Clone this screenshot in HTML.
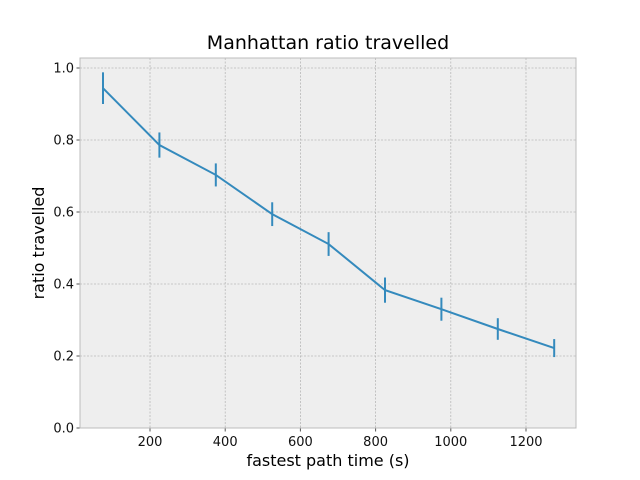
<!DOCTYPE html>
<html><head><meta charset="utf-8"><style>body{margin:0;background:#fff}svg{display:block;font-family:"DejaVu Sans","Liberation Sans",sans-serif}</style></head>
<body>
<svg id="chart" width="640" height="480"></svg>
<script>
const xValues=[75,225,375,525,675,825,975,1125,1275];
const yValues=[0.944,0.786,0.703,0.594,0.511,0.383,0.33,0.275,0.222];
const yErrors=[0.044,0.035,0.032,0.033,0.033,0.035,0.032,0.03,0.025];
const xTicks=[200,400,600,800,1000,1200];
const yTicks=[0.0,0.2,0.4,0.6,0.8,1.0];
const L=80,R=576,T=58,B=428;
const xmin=13.8,xmax=1333,ymin=0,ymax=1.0278;
const xs=v=>L+(v-xmin)/(xmax-xmin)*(R-L);
const ys=v=>B-(v-ymin)/(ymax-ymin)*(B-T);
const svg=document.getElementById('chart');const NS='http://www.w3.org/2000/svg';
function mk(t,a,p){const e=document.createElementNS(NS,t);for(const k in a)e.setAttribute(k,a[k]);(p||svg).appendChild(e);return e;}
const bg=mk('rect',{x:L,y:T,width:R-L,height:B-T,fill:'#eeeeee'});


xTicks.forEach(t=>{const x=xs(t);
const g=mk('line',{x1:x,x2:x,y1:T,y2:B,stroke:'#b8b8b8','stroke-width':0.8,'stroke-dasharray':'2,1.5'});


mk('line',{x1:x,x2:x,y1:B,y2:B+3.5,stroke:'#555'});
const tx=mk('text',{x:x,y:B+18,'font-size':13,'text-anchor':'middle',fill:'#111'});tx.textContent=t;

});
yTicks.forEach(t=>{const y=ys(t);
const g=mk('line',{x1:L,x2:R,y1:y,y2:y,stroke:'#b8b8b8','stroke-width':0.8,'stroke-dasharray':'2,1.5'});


mk('line',{x1:L-3.5,x2:L,y1:y,y2:y,stroke:'#555'});
const tx=mk('text',{x:L-6,y:y+4.5,'font-size':13,'text-anchor':'end',fill:'#111'});tx.textContent=t.toFixed(1);

});
const fr=mk('rect',{x:L,y:T,width:R-L,height:B-T,fill:'none',stroke:'#bcbcbc','stroke-width':1});


const line=mk('polyline',{points:xValues.map((v,i)=>xs(v)+','+ys(yValues[i])).join(' '),fill:'none',stroke:'#348abd','stroke-width':2});


xValues.forEach((v,i)=>{const e=mk('line',{x1:xs(v),x2:xs(v),y1:ys(yValues[i]-yErrors[i]),y2:ys(yValues[i]+yErrors[i]),stroke:'#348abd','stroke-width':2});

});
const title=mk('text',{x:(L+R)/2,y:49,'font-size':19,'text-anchor':'middle',fill:'#000'});title.textContent='Manhattan ratio travelled';


const xl=mk('text',{x:(L+R)/2,y:466,'font-size':16,'text-anchor':'middle',fill:'#000'});xl.textContent='fastest path time (s)';


const yl=mk('text',{x:0,y:0,'font-size':16,'text-anchor':'middle',fill:'#000',transform:'translate(44,243) rotate(-90)'});yl.textContent='ratio travelled';


</script>
</body></html>
